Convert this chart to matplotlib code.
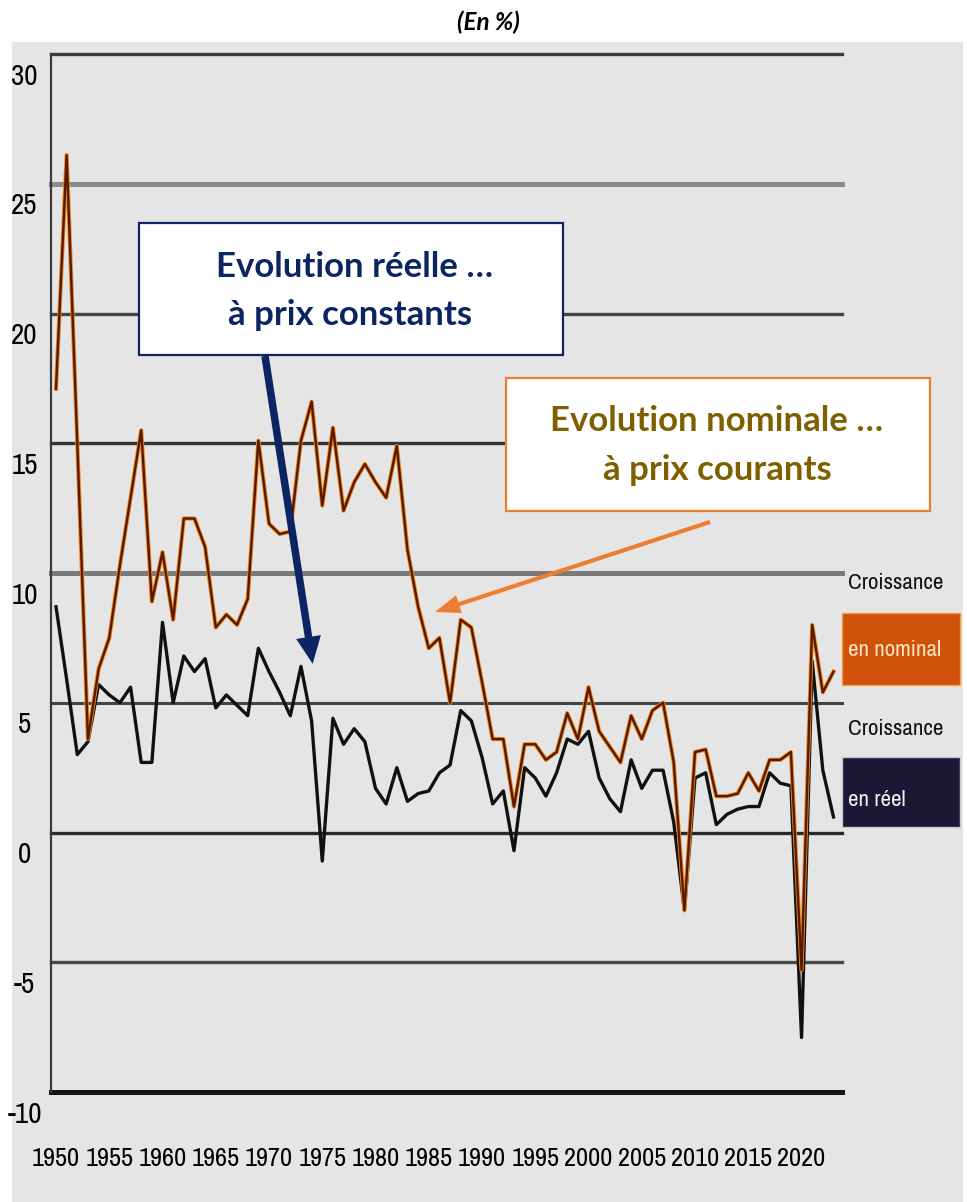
import matplotlib
matplotlib.use("Agg")
import matplotlib.pyplot as plt
from matplotlib import font_manager
from matplotlib.patches import Rectangle

# croissance du PIB en France, en %
years = list(range(1950, 2024))
nominal = [17.1, 26.1, 15.0, 3.6, 6.3, 7.5, 10.3, 12.9, 15.5, 8.9,
           10.8, 8.2, 12.1, 12.1, 11.0, 7.9, 8.4, 8.0, 9.0, 15.1,
           11.9, 11.5, 11.6, 15.1, 16.6, 12.6, 15.6, 12.4, 13.5, 14.2,
           13.5, 12.9, 14.9, 10.9, 8.7, 7.1, 7.5, 5.0, 8.2, 7.9,
           5.8, 3.6, 3.6, 1.0, 3.4, 3.4, 2.8, 3.1, 4.6, 3.6,
           5.6, 3.9, 3.3, 2.7, 4.5, 3.6, 4.7, 5.0, 2.7, -3.0,
           3.1, 3.2, 1.4, 1.4, 1.5, 2.3, 1.6, 2.8, 2.8, 3.1,
           -5.3, 8.0, 5.4, 6.2]
real = [8.7, 5.9, 3.0, 3.5, 5.7, 5.3, 5.0, 5.6, 2.7, 2.7,
        8.1, 5.0, 6.8, 6.2, 6.7, 4.8, 5.3, 4.9, 4.5, 7.1,
        6.2, 5.4, 4.5, 6.4, 4.3, -1.1, 4.4, 3.4, 4.0, 3.5,
        1.7, 1.1, 2.5, 1.2, 1.5, 1.6, 2.3, 2.6, 4.7, 4.3,
        2.9, 1.1, 1.6, -0.7, 2.5, 2.1, 1.4, 2.3, 3.6, 3.4,
        3.9, 2.1, 1.3, 0.8, 2.8, 1.7, 2.4, 2.4, 0.4, -3.0,
        2.1, 2.3, 0.3, 0.7, 0.9, 1.0, 1.0, 2.3, 1.9, 1.8,
        -7.9, 6.6, 2.4, 0.6]
xtick_years = list(range(1950, 2021, 5))
ytick_vals = [30, 25, 20, 15, 10, 5, 0, -5, -10]
ytick_labels = ["30", "25", "20", "15", "10", "5", "0", "-5", "-10"]

W, H = 967, 1202

# police étroite si dispo (l'original utilise une police condensée)
narrow_file = None
for f in font_manager.fontManager.ttflist:
    fn = f.fname.replace("\\", "/").split("/")[-1]
    if ("Narrow" in fn or "Condensed" in fn) and not any(
            k in fn for k in ("Bold", "Oblique", "Italic", "Light", "Black")):
        narrow_file = f.fname
        if "Narrow" in fn:
            break
if narrow_file:
    narrow = font_manager.FontProperties(fname=narrow_file)
    xt_fs, yt_fs, side_fs = 19, 21, 16.5
else:
    narrow = font_manager.FontProperties(family="DejaVu Sans")
    xt_fs, yt_fs, side_fs = 13.5, 15, 14
bold_font = ["Lato", "DejaVu Sans"]
navy = "#0b2462"
orange = "#ed7d31"
olive = "#7f6000"


def fx(x):
    return x / W


def fy(y):
    return 1 - y / H


def ntext(target, x, y, s, size, **kw):
    fp = narrow.copy()
    fp.set_size(size)
    return target.text(x, y, s, fontproperties=fp, **kw)


fig = plt.figure(figsize=(W / 100, H / 100), dpi=100)
fig.patches.append(Rectangle((fx(12), 0), fx(963) - fx(12), fy(42),
                             transform=fig.transFigure, facecolor="#e5e5e5",
                             edgecolor="none", zorder=-10))

ax = fig.add_axes([fx(51), fy(1092), fx(842) - fx(51), (1092 - 54) / H])
ax.set_zorder(1)
ax.set_facecolor("none")
ax.set_xlim(1949.53, 2023.8)
ax.set_ylim(-10, 30)
for side in ["top", "right", "bottom"]:
    ax.spines[side].set_visible(False)
ax.spines["left"].set_color("#3a3a3a")
ax.spines["left"].set_linewidth(1.6)
ax.set_xticks([])
ax.set_yticks([])

# lignes horizontales (épaisseurs/teintes inégales comme sur l'original)
grid_style = {30: ("#3a3a3a", 2.4), 25: ("#8a8a8a", 3.6), 20: ("#444444", 2.4),
              15: ("#333333", 2.4), 10: ("#7a7a7a", 3.6), 5: ("#444444", 2.2),
              0: ("#2a2a2a", 2.4), -5: ("#4a4a4a", 2.4), -10: ("#151515", 3.6)}
for v in ytick_vals:
    c, lw = grid_style[v]
    ax.axhline(v, color=c, lw=lw, clip_on=False, zorder=1)

ax.plot(years, real, color="#111111", lw=2.4, zorder=3)
ax.plot(years, nominal, color="#e8891a", lw=3.0, zorder=4)
ax.plot(years, nominal, color="#5a1800", lw=1.7, zorder=5)

for yr in xtick_years:
    ntext(ax, yr, -0.0645, str(yr), xt_fs, transform=ax.get_xaxis_transform(),
          ha="center", va="center")
for v, lab in zip(ytick_vals, ytick_labels):
    ntext(ax, -0.0335, v - 0.85, lab, yt_fs, transform=ax.get_yaxis_transform(),
          ha="center", va="center")

fig.text(fx(488), fy(22), "(En %)", ha="center", va="center", fontsize=17.5,
         fontweight="bold", fontstyle="italic", family=bold_font)

# encadré bleu : évolution réelle
fig.patches.append(Rectangle((fx(139), fy(355)), fx(563) - fx(139), (355 - 223) / H,
                             transform=fig.transFigure, facecolor="white",
                             edgecolor=navy, lw=1.6, zorder=6))
fig.text(fx(355), fy(267), "Evolution réelle …", ha="center", va="center",
         fontsize=25, fontweight="bold", color=navy, family=bold_font, zorder=7)
fig.text(fx(350), fy(315), "à prix constants", ha="center", va="center",
         fontsize=25, fontweight="bold", color=navy, family=bold_font, zorder=7)
ax.annotate("", xy=(1974.1, 6.5), xycoords="data",
            xytext=(fx(265), fy(356)), textcoords="figure fraction",
            annotation_clip=False,
            arrowprops=dict(arrowstyle="simple,head_length=1.3,head_width=1.2,tail_width=0.36",
                            mutation_scale=15, color=navy, lw=0,
                            shrinkA=0, shrinkB=0), zorder=8)

# encadré orange : évolution nominale
fig.patches.append(Rectangle((fx(506), fy(511)), fx(930) - fx(506), (511 - 378) / H,
                             transform=fig.transFigure, facecolor="white",
                             edgecolor=orange, lw=1.6, zorder=6))
fig.text(fx(717), fy(421), "Evolution nominale …", ha="center", va="center",
         fontsize=25, fontweight="bold", color=olive, family=bold_font, zorder=7)
fig.text(fx(717), fy(470), "à prix courants", ha="center", va="center",
         fontsize=25, fontweight="bold", color=olive, family=bold_font, zorder=7)
ax.annotate("", xy=(1985.6, 8.5), xycoords="data",
            xytext=(fx(710), fy(522)), textcoords="figure fraction",
            annotation_clip=False,
            arrowprops=dict(arrowstyle="simple,head_length=1.2,head_width=0.9,tail_width=0.2",
                            mutation_scale=15, color=orange, lw=0,
                            shrinkA=0, shrinkB=0), zorder=8)

# légende à droite
ntext(fig, fx(848), fy(583), "Croissance", side_fs, ha="left", va="center",
      color="#111111")
fig.patches.append(Rectangle((fx(842), fy(685)), fx(960) - fx(842), (685 - 613) / H,
                             transform=fig.transFigure, facecolor="#d0520a",
                             edgecolor="#f0a040", lw=1.0, zorder=6))
ntext(fig, fx(848), fy(650), "en nominal", side_fs, ha="left", va="center",
      color="#fde6c4", zorder=7)
ntext(fig, fx(848), fy(729), "Croissance", side_fs, ha="left", va="center",
      color="#111111")
fig.patches.append(Rectangle((fx(842), fy(827)), fx(960) - fx(842), (827 - 757) / H,
                             transform=fig.transFigure, facecolor="#1d1634",
                             edgecolor="#c8c4d8", lw=1.0, zorder=6))
ntext(fig, fx(848), fy(800), "en réel", side_fs, ha="left", va="center",
      color="#f2f2f2", zorder=7)

fig.savefig("out.png", dpi=100)
